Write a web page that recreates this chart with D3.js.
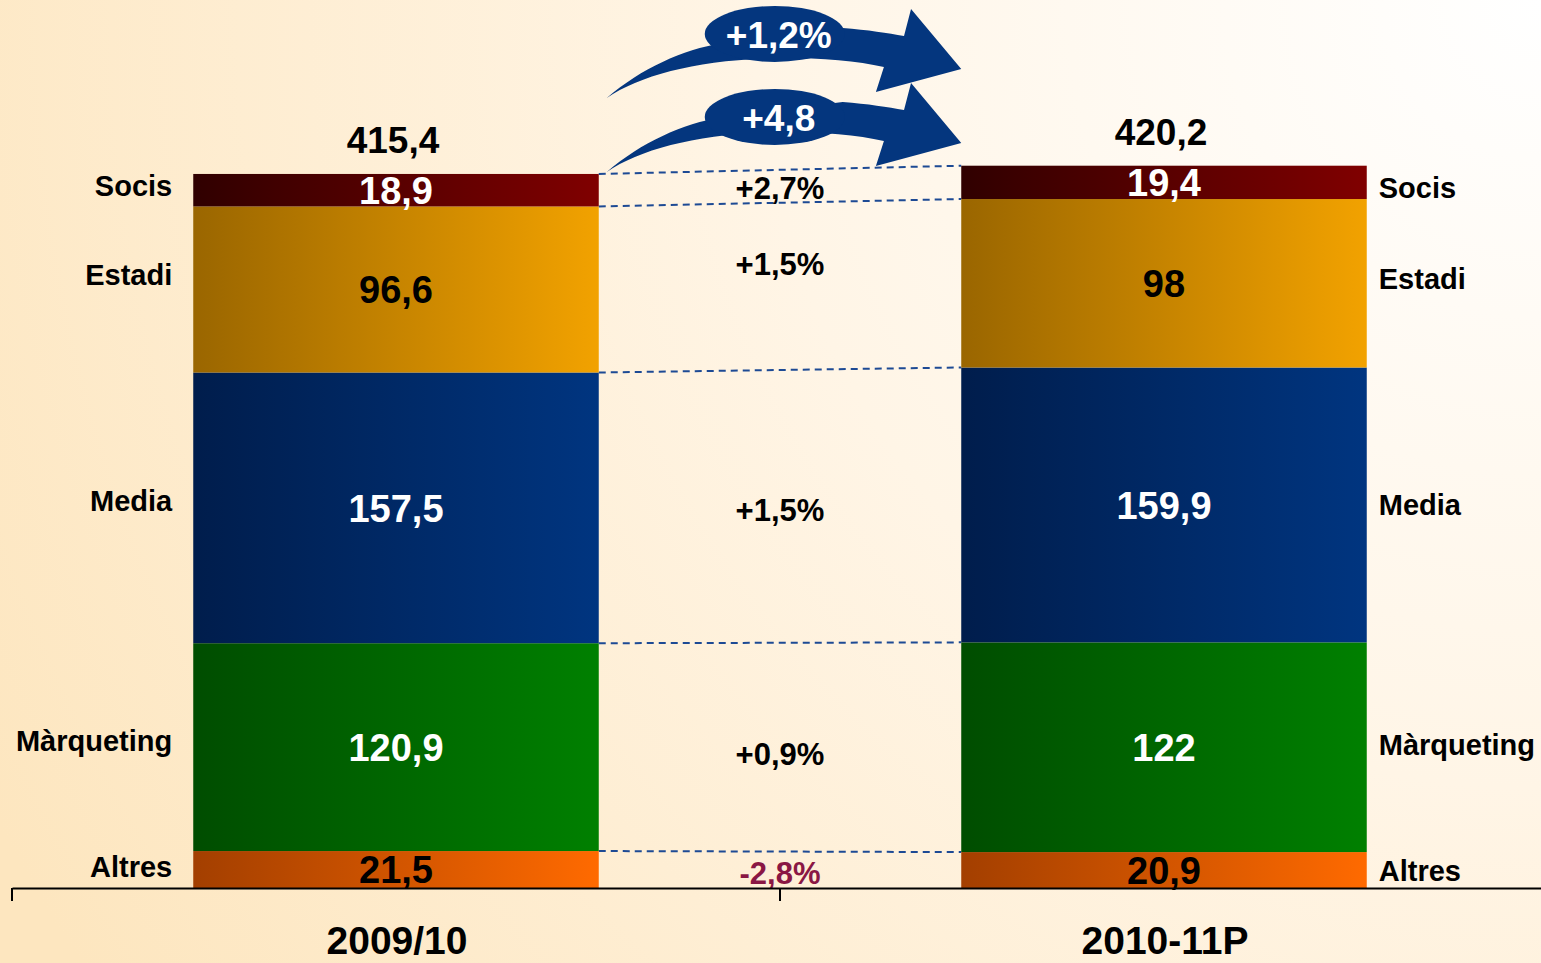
<!DOCTYPE html>
<html lang="ca">
  <head>
    <meta charset="utf-8" />
    <title>Ingressos 2009/10 - 2010-11P</title>
    <script src="https://d3js.org/d3.v7.min.js"></script>
    <style type="text/css">
      html, body {
        margin: 0;
        padding: 0;
        overflow: hidden;
      }
      text {
        font-family: "Liberation Sans", Arial, sans-serif;
        font-weight: bold;
      }
    </style>
  </head>
  <body>
    <script type="text/javascript">
      const w = 1541;
      const h = 963;

      // Data
      const seasons = ["2009/10", "2010-11P"];
      const segments = ["Altres", "Màrqueting", "Media", "Estadi", "Socis"];
      const values2009 = [21.5, 120.9, 157.5, 96.6, 18.9];
      const values2010 = [20.9, 122, 159.9, 98, 19.4];
      const totals = [415.4, 420.2];
      const changes = ["-2,8%", "+0,9%", "+1,5%", "+1,5%", "+2,7%"];
      const arrowLabels = ["+4,8", "+1,2%"];

      // Colours per segment: [dark left, bright right, label colour]
      const segColors = {
        Altres: ["#a33f00", "#ff6a00", "#000"],
        "Màrqueting": ["#004d00", "#008000", "#fff"],
        Media: ["#001d4c", "#003580", "#fff"],
        Estadi: ["#9a6600", "#f2a200", "#000"],
        Socis: ["#300000", "#800000", "#fff"]
      };

      // small label nudges (px)
      const leftNudge = { Altres: -3, "Màrqueting": -7, Media: -7, Estadi: -15, Socis: -5 };
      const rightNudge = { Altres: 1, "Màrqueting": -3, Media: 0, Estadi: -5, Socis: 5 };
      const midNudge = { Altres: 3, "Màrqueting": 7, Media: 2, Estadi: 0, Socis: -2 };

      const fmt = (v) => String(v).replace(".", ",");

      const svg = d3
        .select("body")
        .append("svg")
        .attr("width", w)
        .attr("height", h);

      const defs = svg.append("defs");

      // Background gradient
      const bg = defs
        .append("radialGradient")
        .attr("id", "bg")
        .attr("gradientUnits", "userSpaceOnUse")
        .attr("cx", w)
        .attr("cy", 0)
        .attr("r", 1750);
      bg.append("stop").attr("offset", "0%").attr("stop-color", "#ffffff");
      bg.append("stop").attr("offset", "45%").attr("stop-color", "#fff5e6");
      bg.append("stop").attr("offset", "100%").attr("stop-color", "#fde6bf");

      svg
        .append("rect")
        .attr("width", w)
        .attr("height", h)
        .attr("fill", "url(#bg)");

      segments.forEach(function (s, i) {
        const g = defs
          .append("linearGradient")
          .attr("id", "g" + i)
          .attr("x1", "0%")
          .attr("x2", "100%");
        g.append("stop").attr("offset", "0%").attr("stop-color", segColors[s][0]);
        g.append("stop").attr("offset", "100%").attr("stop-color", segColors[s][1]);
      });

      // Scales
      const x = d3.scaleBand().domain(seasons).range([12, 1548]).padding(0);
      const barW = x.bandwidth() * 0.528;
      const y = d3.scaleLinear().domain([0, 516.6]).range([888, 0]);
      const barX = (season) => x(season) + (x.bandwidth() - barW) / 2;

      // Stack by segment
      const series = d3.stack().keys(segments)(
        seasons.map(function (k, j) {
          const o = { season: k };
          segments.forEach(function (s, i) {
            o[s] = j === 0 ? values2009[i] : values2010[i];
          });
          return o;
        })
      );

      // Dashed connectors between bars
      const conn = svg.append("g");
      conn
        .selectAll("line")
        .data(series.map((s) => ({ a: s[0][1], b: s[1][1] })))
        .enter()
        .append("line")
        .attr("x1", barX(seasons[0]) + barW)
        .attr("x2", barX(seasons[1]))
        .attr("y1", (d) => y(d.a))
        .attr("y2", (d) => y(d.b))
        .attr("stroke", "#1d4a94")
        .attr("stroke-width", 2)
        .attr("stroke-dasharray", "7,5");

      // Bars
      const layers = svg
        .selectAll("g.layer")
        .data(series)
        .enter()
        .append("g")
        .attr("class", "layer")
        .attr("fill", (d, i) => "url(#g" + i + ")");

      layers
        .selectAll("rect")
        .data((d) => d)
        .enter()
        .append("rect")
        .attr("x", (d) => barX(d.data.season))
        .attr("width", barW)
        .attr("y", (d) => y(d[1]))
        .attr("height", (d) => y(d[0]) - y(d[1]));

      // Value labels
      layers
        .selectAll("text")
        .data((d) => d.map((p) => ({ p: p, seg: d.key })))
        .enter()
        .append("text")
        .attr("x", (d) => barX(d.p.data.season) + barW / 2)
        .attr("y", (d) => (y(d.p[0]) + y(d.p[1])) / 2)
        .attr("dy", "0.36em")
        .attr("text-anchor", "middle")
        .style("font-size", "38px")
        .attr("fill", (d) => segColors[d.seg][2])
        .text((d) => fmt(d.p.data[d.seg]));

      // Totals
      svg
        .selectAll("text.total")
        .data(seasons)
        .enter()
        .append("text")
        .attr("class", "total")
        .attr("x", (d) => barX(d) + barW / 2 - 3)
        .attr("y", (d, i) => y(totals[i]) - 21)
        .attr("text-anchor", "middle")
        .style("font-size", "37px")
        .attr("fill", "#000")
        .text((d, i) => fmt(totals[i]));

      // Segment labels left and right, change labels in the middle
      const mid = (barX(seasons[0]) + barW + barX(seasons[1])) / 2;
      series.forEach(function (s, i) {
        svg
          .append("text")
          .attr("x", barX(seasons[0]) - 21)
          .attr("y", (y(s[0][0]) + y(s[0][1])) / 2 + leftNudge[s.key])
          .attr("dy", "0.36em")
          .attr("text-anchor", "end")
          .style("font-size", "29px")
          .text(s.key);
        svg
          .append("text")
          .attr("x", barX(seasons[1]) + barW + 12)
          .attr("y", (y(s[1][0]) + y(s[1][1])) / 2 + rightNudge[s.key])
          .attr("dy", "0.36em")
          .style("font-size", "29px")
          .text(s.key);

        let cy = (y(s[0][0]) + y(s[0][1])) / 2 + midNudge[s.key];
        if (s.key === "Estadi") cy = y(s[0][1]) + 57;
        svg
          .append("text")
          .attr("x", mid)
          .attr("y", cy)
          .attr("dy", "0.36em")
          .attr("text-anchor", "middle")
          .style("font-size", "31px")
          .attr("fill", changes[i].startsWith("-") ? "#8a1744" : "#000")
          .text(changes[i]);
      });

      // Axis
      const axis = svg
        .append("g")
        .attr("transform", "translate(0," + y(0) + ")")
        .call(d3.axisBottom(x).tickValues([]).tickSizeOuter(0));
      axis.select(".domain").attr("stroke", "#000").attr("stroke-width", 2);
      const edges = [x(seasons[0]), x(seasons[1]), x(seasons[1]) + x.bandwidth()];
      axis
        .selectAll("line.tk")
        .data(edges)
        .enter()
        .append("line")
        .attr("class", "tk")
        .attr("x1", (d) => d)
        .attr("x2", (d) => d)
        .attr("y1", 0)
        .attr("y2", 13)
        .attr("stroke", "#000")
        .attr("stroke-width", 2);

      svg
        .selectAll("text.cat")
        .data(seasons)
        .enter()
        .append("text")
        .attr("class", "cat")
        .attr("x", (d) => x(d) + x.bandwidth() / 2 + 1)
        .attr("y", 954)
        .attr("text-anchor", "middle")
        .style("font-size", "39px")
        .attr("fill", "#000")
        .text((d) => d);

      // Growth arrows (decorative), tail at right top edge of 2009/10 bar
      const tailX = barX(seasons[0]) + barW + 8;
      const tipX = barX(seasons[1]);
      const arrowPath = function () {
        const p = d3.path();
        const L = tipX - tailX;
        const k = L / 353;
        p.moveTo(0, 0);
        p.bezierCurveTo(35 * k, -30, 75 * k, -48, 115 * k, -55);
        p.lineTo(235 * k, -70);
        p.bezierCurveTo(260 * k, -68, 280 * k, -65, 296 * k, -62);
        p.lineTo(303 * k, -89);
        p.lineTo(L, -29);
        p.lineTo(268 * k, -6);
        p.lineTo(276 * k, -31);
        p.bezierCurveTo(250 * k, -37, 215 * k, -40, 175 * k, -40);
        p.bezierCurveTo(95 * k, -39, 35 * k, -24, 0, 0);
        p.closePath();
        return p.toString();
      };

      const arrowTails = [y(totals[0]), y(totals[0]) - 74];
      const ellipseY = [-55, -64];
      const arrows = svg
        .selectAll("g.arrow")
        .data(arrowLabels)
        .enter()
        .append("g")
        .attr("class", "arrow")
        .attr("transform", (d, i) => "translate(" + tailX + "," + (arrowTails[i] - 2) + ")");

      arrows.append("path").attr("d", arrowPath()).attr("fill", "#04367e");
      arrows
        .append("ellipse")
        .attr("cx", 168)
        .attr("cy", (d, i) => ellipseY[i])
        .attr("rx", 70)
        .attr("ry", 28)
        .attr("fill", "#04367e");
      arrows
        .append("text")
        .attr("x", 172)
        .attr("y", (d, i) => ellipseY[i] + 1)
        .attr("dy", "0.36em")
        .attr("text-anchor", "middle")
        .style("font-size", "37px")
        .attr("fill", "#fff")
        .text((d) => d);
    </script>
  </body>
</html>
